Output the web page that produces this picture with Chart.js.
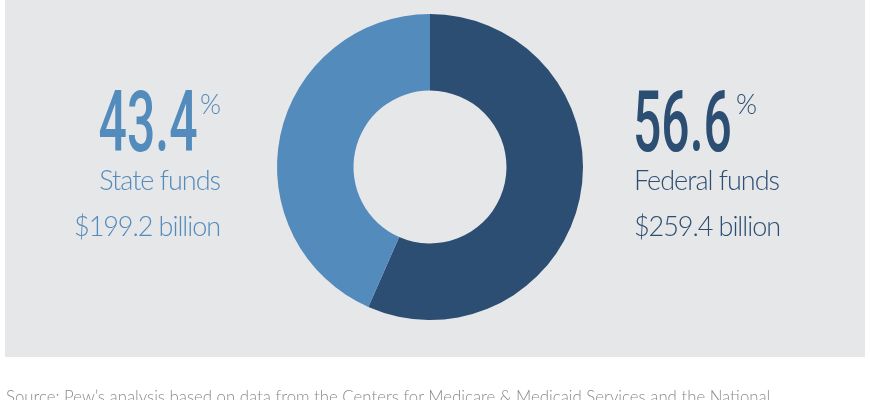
<!DOCTYPE html>
<html>
<head>
<meta charset="utf-8">
<script src="https://cdn.jsdelivr.net/npm/chart.js@4/dist/chart.umd.min.js"></script>
<style>
  html, body { margin: 0; padding: 0; background: #fff; }
  body { width: 870px; height: 400px; position: relative; overflow: hidden; font-family: Lato, "Open Sans", sans-serif; }
  #panel { position: absolute; left: 5px; top: 0; width: 860px; height: 357px; background: #e6e7e8; }
  #wrap { position: absolute; left: 0; top: 0; width: 870px; height: 400px; }
  .big { position: absolute; top: 72px; font-family: Roboto, sans-serif; font-weight: 500; font-size: 86px; line-height: 100px; transform: scaleX(0.58); white-space: nowrap; }
  .pct { position: absolute; top: 89px; font-weight: 300; font-size: 27px; line-height: 30px; }
  .lbl { position: absolute; font-weight: 300; font-size: 27px; line-height: 30px; white-space: nowrap; letter-spacing: -1px; }
  .amt { letter-spacing: -1.05px; }
  #src { position: absolute; left: 6px; top: 387px; font-weight: 300; font-size: 16.8px; line-height: 20px; color: #8c8c8c; white-space: nowrap; }
</style>
</head>
<body>
<div id="panel"></div>
<div id="wrap"><canvas id="donut"></canvas></div>
<div id="left"></div>
<div id="right"></div>
<div id="src"></div>
<script>
const labels = ['Federal funds', 'State funds'];
const shares = [56.6, 43.4];
const amounts = ['$259.4 billion', '$199.2 billion'];
const colors = ['#2c4e73', '#548bbd'];
const source = 'Source: Pew\u2019s analysis based on data from the Centers for Medicare & Medicaid Services and the National';

// text blocks on each side of the ring
function block(el, i, side) {
    var c = colors[i];
    var big = document.createElement('div');
    big.className = 'big';
    big.textContent = shares[i].toFixed(1);
    big.style.color = c;
    var pct = document.createElement('div');
    pct.className = 'pct';
    pct.textContent = '%';
    pct.style.color = c;
    var l1 = document.createElement('div');
    l1.className = 'lbl';
    l1.textContent = labels[i];
    l1.style.color = c;
    l1.style.top = '165px';
    var l2 = document.createElement('div');
    l2.className = 'lbl amt';
    l2.textContent = amounts[i];
    l2.style.color = c;
    l2.style.top = '211px';
    if (side === 'left') {
        big.style.right = (870 - 198) + 'px';
        big.style.transformOrigin = 'right center';
        pct.style.left = '200px';
        l1.style.right = (870 - 220) + 'px';
        l2.style.right = (870 - 220) + 'px';
    } else {
        big.style.left = '633px';
        big.style.transformOrigin = 'left center';
        pct.style.left = '736px';
        l1.style.left = '634px';
        l2.style.left = '634px';
    }
    el.appendChild(big);
    el.appendChild(pct);
    el.appendChild(l1);
    el.appendChild(l2);
}
block(document.getElementById('right'), 0, 'right');
block(document.getElementById('left'), 1, 'left');
document.getElementById('src').textContent = source;

new Chart(document.getElementById('donut'), {
    type: 'doughnut',
    data: {
        labels: labels,
        datasets: [{ data: shares, backgroundColor: colors, borderWidth: 0, hoverOffset: 0 }]
    },
    options: {
        responsive: true,
        maintainAspectRatio: false,
        animation: false,
        cutout: '50%',
        layout: { padding: { left: 0, right: 10, top: 14, bottom: 80 } },
        plugins: { legend: { display: false }, tooltip: { enabled: false } }
    }
});
</script>
</body>
</html>
